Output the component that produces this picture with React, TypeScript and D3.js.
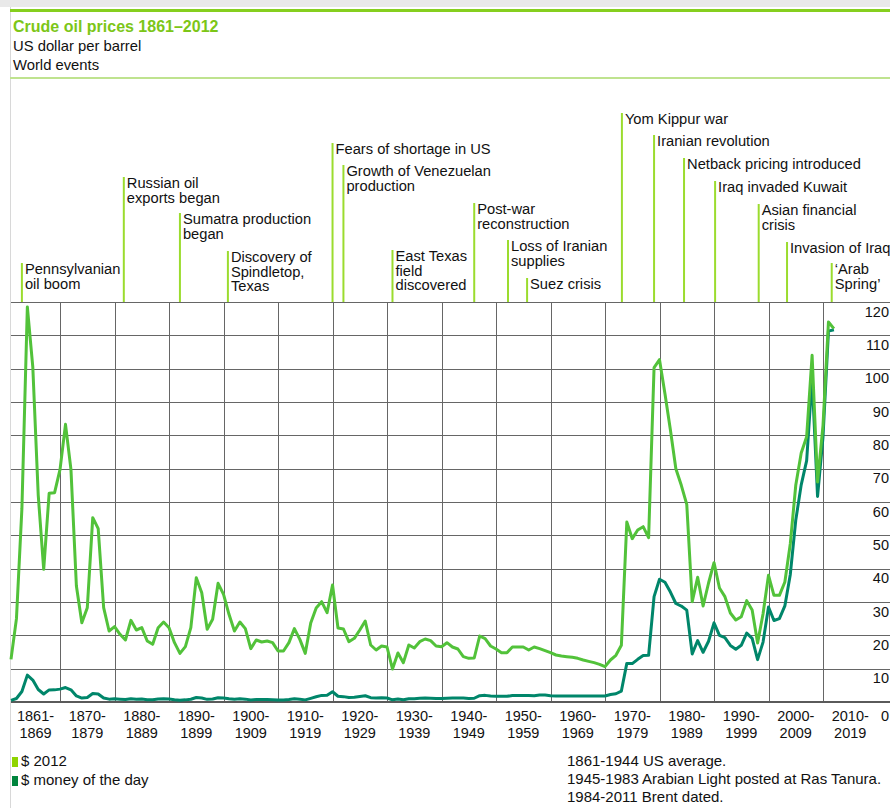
import React from 'react';
import * as d3 from 'd3';

// crude oil prices, US dollar per barrel
const firstYear = 1861;
const lastYear = 2012;
const years = d3.range(firstYear, lastYear + 1);

const price2012 = [
  12.8, 25, 58, 118.5, 100.5, 62, 39.8, 62.6, 62.8,
  69.8, 83.3, 69.8, 34.8, 23.8, 28.3, 55.3, 52, 28.3, 21.3,
  22.6, 20.3, 18.6, 24.5, 21.6, 22.3, 18.3, 17.3, 22.3, 24,
  22.3, 17.8, 14.6, 16.6, 22.3, 37.3, 32.8, 21.8, 24.8, 35.6,
  32.3, 26.3, 21.3, 24, 22, 16, 18.6, 18, 18.3, 17.8,
  15.3, 15.3, 17.8, 22, 18.8, 14.6, 23.7, 28.2, 30.1, 26.8,
  35.1, 22.2, 21.9, 18.1, 19.1, 21.6, 24.3, 17.1, 15.6, 16.8,
  16.5, 9.9, 14.7, 11.8, 17.1, 16.2, 18.1, 18.9, 18.4, 16.8,
  16.6, 17.8, 16.5, 15.9, 13.6, 13.1, 13.2, 19.8, 19, 16.8,
  15.9, 14.8, 14.8, 16.5, 16.5, 16.5, 15.6, 16.5, 16, 15.4,
  14.8, 14.1, 13.8, 13.6, 13.4, 13.1, 12.6, 12.2, 11.8, 11.3,
  10.6, 12.6, 14, 17, 54, 49, 51.6, 52.6, 49.3, 100.3,
  102.7, 92.5, 81.6, 70, 65, 59.3, 30.1, 37.4, 28.8, 35.7,
  41.8, 34.2, 31.6, 26.7, 24.6, 25.6, 30.4, 27.6, 17.7, 26.5,
  38, 32, 32, 36, 47.5, 65, 74.7, 79.6, 104, 66,
  83, 114, 112,
];

const priceMoneyOfDay = [
  0.49, 1.05, 3.15, 8.06, 6.59, 3.74, 2.41, 3.63, 3.64,
  3.86, 4.34, 3.64, 1.83, 1.17, 1.35, 2.56, 2.42, 1.19, 0.86,
  0.95, 0.86, 0.78, 1.0, 0.84, 0.88, 0.71, 0.67, 0.88, 0.94,
  0.87, 0.67, 0.56, 0.64, 0.84, 1.36, 1.18, 0.79, 0.91, 1.29,
  1.19, 0.96, 0.8, 0.94, 0.86, 0.62, 0.73, 0.72, 0.72, 0.7,
  0.61, 0.61, 0.74, 0.95, 0.81, 0.64, 1.1, 1.56, 1.98, 2.01,
  3.07, 1.73, 1.61, 1.34, 1.43, 1.68, 1.88, 1.3, 1.17, 1.27,
  1.19, 0.65, 0.87, 0.67, 1.0, 0.97, 1.09, 1.18, 1.13, 1.02,
  1.02, 1.14, 1.19, 1.2, 1.21, 1.05, 1.12, 1.9, 1.99, 1.78,
  1.71, 1.71, 1.71, 1.93, 1.93, 1.93, 1.93, 1.9, 2.08, 2.08,
  1.9, 1.8, 1.8, 1.8, 1.8, 1.8, 1.8, 1.8, 1.8, 1.8,
  1.8, 2.24, 2.48, 3.29, 11.58, 11.53, 12.8, 13.92, 14.02, 31.61,
  36.83, 35.93, 32.97, 29.55, 28.78, 27.56, 14.43, 18.44, 14.92, 18.23,
  23.73, 20.0, 19.32, 16.97, 15.82, 17.02, 20.67, 19.09, 12.72, 17.97,
  28.5, 24.44, 25.02, 28.83, 38.27, 54.52, 65.14, 72.39, 97.26, 61.67,
  79.5, 111.26, 111.67,
];

const decadeStarts = [1861, 1870, 1880, 1890, 1900, 1910, 1920, 1930, 1940, 1950, 1960, 1970, 1980, 1990, 2000, 2010];
const decadeLabels = [
  ['1861-', '1869'], ['1870-', '1879'], ['1880-', '1889'], ['1890-', '1899'],
  ['1900-', '1909'], ['1910-', '1919'], ['1920-', '1929'], ['1930-', '1939'],
  ['1940-', '1949'], ['1950-', '1959'], ['1960-', '1969'], ['1970-', '1979'],
  ['1980-', '1989'], ['1990-', '1999'], ['2000-', '2009'], ['2010-', '2019'],
];
const yTicks = [0, 10, 20, 30, 40, 50, 60, 70, 80, 90, 100, 110, 120];

const eventYears = [1863, 1881.7, 1892, 1900.8, 1920, 1922, 1931, 1946, 1952.2, 1955.7, 1973.1, 1979, 1984.5, 1990.2, 1998.2, 2003.4, 2011.6];
const eventLabels = [
  ['Pennsylvanian', 'oil boom'],
  ['Russian oil', 'exports began'],
  ['Sumatra production', 'began'],
  ['Discovery of', 'Spindletop,', 'Texas'],
  ['Fears of shortage in US'],
  ['Growth of Venezuelan', 'production'],
  ['East Texas', 'field', 'discovered'],
  ['Post-war', 'reconstruction'],
  ['Loss of Iranian', 'supplies'],
  ['Suez crisis'],
  ['Yom Kippur war'],
  ['Iranian revolution'],
  ['Netback pricing introduced'],
  ['Iraq invaded Kuwait'],
  ['Asian financial', 'crisis'],
  ['Invasion of Iraq'],
  ['\u2018Arab', 'Spring\u2019'],
];

const seriesNames = ['$ 2012', '$ money of the day'];
const footnotes = [
  '1861-1944 US average.',
  '1945-1983 Arabian Light posted at Ras Tanura.',
  '1984-2011 Brent dated.',
];

const W = 890;
const H = 808;
const FONT = '"Liberation Sans", Arial, Helvetica, sans-serif';
const lightGreen = '#52c23a';
const darkGreen = '#00866a';
const eventGreen = '#9bdc2e';
const gridColor = '#666';

// vertical tier of each event label (top of its marker line)
const eventTop = [263, 177, 213, 251, 143, 165, 250, 203, 240, 278, 113, 135, 158, 181, 204, 242, 263];

export default function App() {
  const x = d3.scaleLinear().domain([1861, 2020]).range([11, 877.5]);
  const y = d3.scaleLinear().domain([0, 120]).range([702, 302]);
  const px = (v: number) => Math.round(v) + 0.5;

  const line = d3.line<number>()
    .x((_, i) => x(years[i]))
    .y(d => y(d));

  const decadeEnds = decadeStarts.slice(1).concat([2020]);

  return (
    <svg width={W} height={H} style={{ position: 'absolute', left: 0, top: 0, fontFamily: FONT }}>
      <rect width={W} height={H} fill="#fff" />
      <rect width={W} height={7} fill="#e9e9e9" />
      <line x1={10.5} x2={10.5} y1={7} y2={H} stroke="#d8d8d8" strokeWidth={1} />
      <line x1={10} x2={W} y1={10.5} y2={10.5} stroke="#86cf1e" strokeWidth={3} />
      <line x1={10} x2={W} y1={78} y2={78} stroke="#bfe38f" strokeWidth={2} />

      <text x={13} y={32} fontSize={16} fontWeight="bold" fill="#7cc617">Crude oil prices 1861–2012</text>
      <text x={13} y={50.5} fontSize={14.8} fill="#111">US dollar per barrel</text>
      <text x={13} y={70} fontSize={14.8} fill="#111">World events</text>

      {/* grid */}
      <g stroke={gridColor} strokeWidth={1}>
        {yTicks.filter(t => t > 0).map(t => (
          <line key={t} x1={11} x2={W} y1={px(y(t))} y2={px(y(t))} />
        ))}
        {decadeStarts.slice(1).map(d => (
          <line key={d} x1={px(x(d))} x2={px(x(d))} y1={y(120)} y2={y(0)} />
        ))}
      </g>
      <line x1={11} x2={W} y1={y(0)} y2={y(0)} stroke="#5a5a5a" strokeWidth={2} />

      {/* world events */}
      {eventYears.map((yr, i) => (
        <g key={i}>
          <line x1={x(yr)} x2={x(yr)} y1={eventTop[i]} y2={y(120)} stroke={eventGreen} strokeWidth={2} />
          <text x={x(yr) + 3} y={eventTop[i] + 11} fontSize={14.7} fill="#111">
            {eventLabels[i].map((s, j) => (
              <tspan key={j} x={x(yr) + 3} dy={j === 0 ? 0 : 14.5}>{s}</tspan>
            ))}
          </text>
        </g>
      ))}

      {/* series */}
      <path d={line(priceMoneyOfDay) || ''} fill="none" stroke={darkGreen} strokeWidth={3} strokeLinejoin="round" />
      <path d={line(price2012) || ''} fill="none" stroke={lightGreen} strokeWidth={3} strokeLinejoin="round" />

      {/* y labels */}
      {yTicks.filter(t => t > 0).map(t => (
        <text key={t} x={889} y={y(t) + 14.5} fontSize={14.5} textAnchor="end" fill="#111">{t}</text>
      ))}
      <text x={889} y={721} fontSize={14.5} textAnchor="end" fill="#111">0</text>

      {/* decade labels */}
      {decadeLabels.map((lab, i) => {
        const cx = (x(decadeStarts[i]) + x(decadeEnds[i])) / 2;
        return (
          <text key={i} x={cx} y={721} fontSize={14.5} textAnchor="middle" fill="#111">
            <tspan x={cx}>{lab[0]}</tspan>
            <tspan x={cx} dy={17}>{lab[1]}</tspan>
          </text>
        );
      })}

      {/* legend */}
      {seriesNames.map((s, i) => (
        <g key={s}>
          <rect x={12} y={757 + i * 19} width={6} height={10} fill={i === 0 ? '#8fd400' : '#00843d'} />
          <text x={21} y={766 + i * 19} fontSize={15} fill="#111">{s}</text>
        </g>
      ))}

      {/* notes */}
      {footnotes.map((s, i) => (
        <text key={i} x={567} y={766 + i * 18} fontSize={15} fill="#111">{s}</text>
      ))}
    </svg>
  );
}
